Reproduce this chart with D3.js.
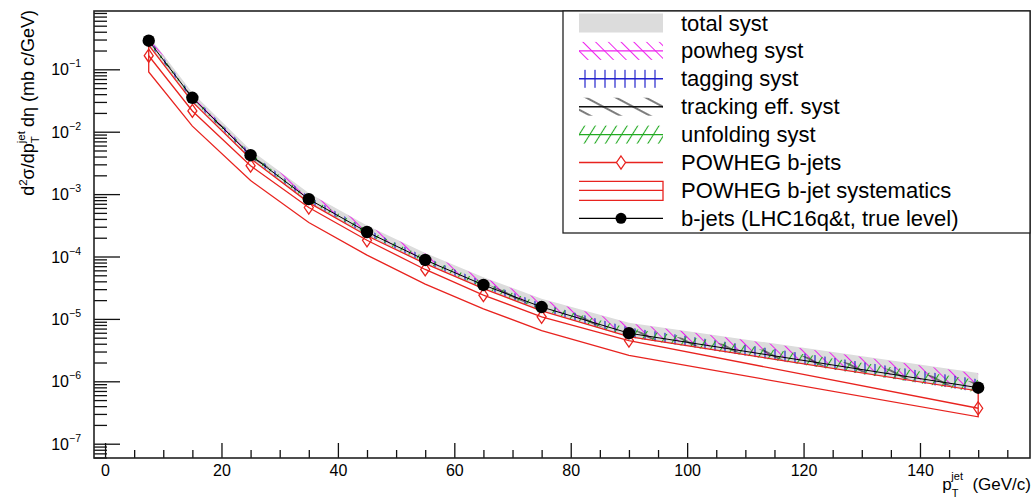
<!DOCTYPE html>
<html>
<head>
<meta charset="utf-8">
<script src="https://cdn.jsdelivr.net/npm/d3@7"></script>
<style>
  body { margin: 0; background: #fff; }
  svg { display: block; font-family: "Liberation Sans", Arial, Helvetica, sans-serif; }
</style>
</head>
<body>
<div id="chart"></div>
<script>
/* Chart constants */
const WIDTH = 1034;
const HEIGHT = 502;
const FRAME = {left: 94, right: 1030, top: 11, bottom: 458};

// jet pT bin centres (GeV/c)
const ptCenters = [7.5, 15, 25, 35, 45, 55, 65, 75, 90, 150];

// measured b-jet spectrum (LHC16q&t, true level)
const bjets = [0.287, 0.035, 4.2e-3, 8.3e-4, 2.47e-4, 8.8e-5, 3.5e-5, 1.55e-5, 5.9e-6, 7.9e-7];

// systematic bands around the measurement (low / high edge)
const totalLow  = [0.25, 0.0305, 3.65e-3, 7.2e-4, 2.15e-4, 7.6e-5, 3.05e-5, 1.35e-5, 5.1e-6, 6.9e-7];
const totalHigh = [0.345, 0.042, 5.1e-3, 1.04e-3, 3.15e-4, 1.14e-4, 4.65e-5, 2.1e-5, 8.7e-6, 1.36e-6];
const powhegSystLow  = [0.28, 0.034, 4.1e-3, 8.1e-4, 2.4e-4, 8.6e-5, 3.4e-5, 1.5e-5, 5.7e-6, 7.6e-7];
const powhegSystHigh = [0.335, 0.041, 5.0e-3, 1.02e-3, 3.1e-4, 1.12e-4, 4.55e-5, 2.05e-5, 8.5e-6, 1.32e-6];
const taggingLow  = [0.26, 0.0315, 3.8e-3, 7.5e-4, 2.22e-4, 7.9e-5, 3.12e-5, 1.38e-5, 5.1e-6, 6.7e-7];
const taggingHigh = [0.315, 0.0385, 4.65e-3, 9.2e-4, 2.75e-4, 9.9e-5, 3.95e-5, 1.77e-5, 7.3e-6, 1.08e-6];
const trackingLow  = [0.27, 0.033, 3.95e-3, 7.8e-4, 2.32e-4, 8.25e-5, 3.28e-5, 1.45e-5, 5.4e-6, 7.2e-7];
const trackingHigh = [0.305, 0.037, 4.45e-3, 8.8e-4, 2.64e-4, 9.45e-5, 3.78e-5, 1.68e-5, 6.7e-6, 9.6e-7];
const unfoldingLow  = [0.265, 0.0325, 3.9e-3, 7.6e-4, 2.25e-4, 8.0e-5, 3.15e-5, 1.39e-5, 5.1e-6, 6.6e-7];
const unfoldingHigh = [0.305, 0.0375, 4.5e-3, 9.0e-4, 2.7e-4, 9.7e-5, 3.9e-5, 1.74e-5, 7.1e-6, 1.05e-6];

// POWHEG b-jet prediction and its systematic envelope
const powheg     = [0.165, 0.0215, 2.85e-3, 6.1e-4, 1.82e-4, 6.2e-5, 2.4e-5, 1.08e-5, 4.5e-6, 3.7e-7];
const powhegLow  = [0.0905, 0.0123, 1.65e-3, 3.5e-4, 1.05e-4, 3.6e-5, 1.45e-5, 6.5e-6, 2.6e-6, 2.7e-7];
const powhegHigh = [0.245, 0.030, 3.7e-3, 7.3e-4, 2.15e-4, 7.7e-5, 3.05e-5, 1.35e-5, 5.2e-6, 7.0e-7];

// axis ticks
const xMajorTicks = [0, 20, 40, 60, 80, 100, 120, 140];
const yDecades = [-7, -6, -5, -4, -3, -2, -1];

const legendLabels = ["total syst", "powheg syst", "tagging syst", "tracking eff. syst",
                      "unfolding syst", "POWHEG b-jets", "POWHEG b-jet systematics",
                      "b-jets (LHC16q&t, true level)"];

const RED = "#e8231f";

window.onload = () => {
    buildChart();
}

function buildChart() {
    const svg = d3.select("#chart").append("svg").attr("width", WIDTH).attr("height", HEIGHT);

    const x = d3.scaleLinear().domain([-1.9, 158.9]).range([FRAME.left, FRAME.right]);
    const y = d3.scaleLog().domain([5.9e-8, 0.86]).range([FRAME.bottom, FRAME.top]);

    //hatch patterns: horizontal line rotated
    const defs = svg.append("defs");
    function hatch(id, color, spacing, angle, width) {
        const p = defs.append("pattern").attr("id", id)
            .attr("patternUnits", "userSpaceOnUse")
            .attr("width", 10).attr("height", spacing)
            .attr("patternTransform", "rotate(" + angle + ")");
        p.append("line").attr("x1", 0).attr("x2", 10)
            .attr("y1", spacing / 2).attr("y2", spacing / 2)
            .attr("stroke", color).attr("stroke-width", width);
    }
    hatch("h-powheg", "#ee22ee", 9, 45, 1);
    hatch("h-tagging", "#2222cc", 10, 90, 1.2);
    hatch("h-tracking", "#111", 14, 28, 1.1);
    hatch("h-unfolding", "#22aa22", 9, -58, 1.1);

    defs.append("clipPath").attr("id", "frameclip").append("rect")
        .attr("x", FRAME.left).attr("y", FRAME.top)
        .attr("width", FRAME.right - FRAME.left).attr("height", FRAME.bottom - FRAME.top);

    const plot = svg.append("g").attr("clip-path", "url(#frameclip)");

    const rows = ptCenters.map((pt, i) => ({pt: pt, i: i}));
    function band(lo, hi) {
        return d3.area().x((d) => x(d.pt)).y0((d) => y(lo[d.i])).y1((d) => y(hi[d.i]))(rows);
    }

    plot.append("path").attr("d", band(totalLow, totalHigh)).attr("fill", "#dcdcdc");
    plot.append("path").attr("d", band(powhegSystLow, powhegSystHigh)).attr("fill", "url(#h-powheg)");
    plot.append("path").attr("d", band(taggingLow, taggingHigh)).attr("fill", "url(#h-tagging)");
    plot.append("path").attr("d", band(trackingLow, trackingHigh)).attr("fill", "url(#h-tracking)");
    plot.append("path").attr("d", band(unfoldingLow, unfoldingHigh)).attr("fill", "url(#h-unfolding)");

    //POWHEG envelope, hollow
    plot.append("path").attr("d", band(powhegLow, powhegHigh))
        .attr("fill", "none").attr("stroke", RED).attr("stroke-width", 1.3);

    const line = (vals) => d3.line().x((d) => x(d.pt)).y((d) => y(vals[d.i]))(rows);

    plot.append("path").attr("d", line(powheg)).attr("fill", "none")
        .attr("stroke", RED).attr("stroke-width", 1.3);
    plot.append("path").attr("d", line(bjets)).attr("fill", "none")
        .attr("stroke", "#000").attr("stroke-width", 1);

    const diamond = (cx, cy) => "M" + cx + "," + (cy - 6.5) + "L" + (cx + 4.5) + "," + cy +
        "L" + cx + "," + (cy + 6.5) + "L" + (cx - 4.5) + "," + cy + "Z";

    plot.selectAll("path.pw").data(rows).enter().append("path").attr("class", "pw")
        .attr("d", (d) => diamond(x(d.pt), y(powheg[d.i])))
        .attr("fill", "none").attr("stroke", RED).attr("stroke-width", 1.3);

    plot.selectAll("circle.bj").data(rows).enter().append("circle").attr("class", "bj")
        .attr("cx", (d) => x(d.pt)).attr("cy", (d) => y(bjets[d.i]))
        .attr("r", 6.2).attr("fill", "#000");

    // axes
    const yMinor = [];
    for (let k = -8; k <= -1; k++) {
        for (let m = 2; m <= 9; m++) {
            const v = m * Math.pow(10, k);
            if (v >= 5.9e-8 && v <= 0.86) yMinor.push(v);
        }
    }
    const yMajor = yDecades.map((k) => Math.pow(10, k));

    svg.append("g").attr("transform", "translate(" + FRAME.left + ",0)")
        .call(d3.axisLeft(y).tickValues(yMinor).tickSize(-13).tickFormat(""))
        .call((g) => g.select(".domain").remove());
    svg.append("g").attr("transform", "translate(" + FRAME.left + ",0)")
        .call(d3.axisLeft(y).tickValues(yMajor).tickSize(-26).tickFormat(""))
        .call((g) => g.select(".domain").remove());

    const xMinor = d3.range(0, 159, 5).filter((v) => v % 20 !== 0);
    svg.append("g").attr("transform", "translate(0," + FRAME.bottom + ")")
        .call(d3.axisBottom(x).tickValues(xMinor).tickSize(-8).tickFormat(""))
        .call((g) => g.select(".domain").remove());
    svg.append("g").attr("transform", "translate(0," + FRAME.bottom + ")")
        .call(d3.axisBottom(x).tickValues(xMajorTicks).tickSize(-15).tickPadding(7))
        .call((g) => g.select(".domain").remove())
        .call((g) => g.selectAll("text").attr("font-size", 16).attr("fill", "#000")
            .attr("font-family", "'Liberation Sans', Arial, sans-serif"));

    svg.selectAll(".tick line").attr("stroke", "#111").attr("stroke-width", 1.3);

    // y tick labels 10^k
    yDecades.forEach((k) => {
        const t = svg.append("text").attr("x", 81).attr("y", y(Math.pow(10, k)) + 6)
            .attr("text-anchor", "end").attr("font-size", 16);
        t.append("tspan").text("10");
        t.append("tspan").attr("font-size", 10.5).attr("dy", -8).text("\u2212" + (-k));
    });

    // frame
    svg.append("rect").attr("x", FRAME.left).attr("y", FRAME.top)
        .attr("width", FRAME.right - FRAME.left).attr("height", FRAME.bottom - FRAME.top)
        .attr("fill", "none").attr("stroke", "#222").attr("stroke-width", 1.6);

    // axis titles
    const xt = svg.append("text").attr("x", 1031).attr("y", 490)
        .attr("text-anchor", "end").attr("font-size", 17);
    xt.append("tspan").text("p");
    xt.append("tspan").attr("font-size", 11).attr("dy", 7).text("T");
    xt.append("tspan").attr("font-size", 11).attr("dx", -7).attr("dy", -17).text("jet");
    xt.append("tspan").attr("dy", 10).text("  (GeV/c)").attr("xml:space", "preserve");

    const yt = svg.append("text").attr("transform", "translate(34,10) rotate(-90)")
        .attr("text-anchor", "end").attr("font-size", 18);
    yt.append("tspan").text("d");
    yt.append("tspan").attr("font-size", 11.5).attr("dy", -7).text("2");
    yt.append("tspan").attr("dy", 7).text("\u03c3/dp");
    yt.append("tspan").attr("font-size", 11.5).attr("dy", 5).text("T");
    yt.append("tspan").attr("font-size", 11.5).attr("dx", -7).attr("dy", -14).text("jet");
    yt.append("tspan").attr("dy", 9).attr("dx", 4).text("d\u03b7 (mb c/GeV)");

    // legend
    const leg = svg.append("g");
    leg.append("rect").attr("x", 563).attr("y", 11).attr("width", 467).attr("height", 222)
        .attr("fill", "#fff").attr("stroke", "#222").attr("stroke-width", 1.3);

    const sx0 = 579, sx1 = 663, sxm = 621;
    const fills = [null, "url(#h-powheg)", "url(#h-tagging)", "url(#h-tracking)", "url(#h-unfolding)"];
    const lineColors = [null, "#ee22ee", "#2222cc", "#111", "#22aa22"];

    legendLabels.forEach((label, i) => {
        const cy = 23 + 27.9 * i;
        if (i === 0) {
            leg.append("rect").attr("x", sx0).attr("y", cy - 9.5).attr("width", sx1 - sx0)
                .attr("height", 19).attr("fill", "#dcdcdc");
        } else if (i <= 4) {
            leg.append("rect").attr("x", sx0).attr("y", cy - 9).attr("width", sx1 - sx0)
                .attr("height", 18).attr("fill", fills[i]);
            leg.append("line").attr("x1", sx0).attr("x2", sx1).attr("y1", cy).attr("y2", cy)
                .attr("stroke", lineColors[i]).attr("stroke-width", 1.4);
        } else if (i === 5) {
            leg.append("line").attr("x1", sx0).attr("x2", sx1).attr("y1", cy).attr("y2", cy)
                .attr("stroke", RED).attr("stroke-width", 1.3);
            leg.append("path").attr("d", diamond(sxm, cy)).attr("fill", "#fff")
                .attr("stroke", RED).attr("stroke-width", 1.3);
        } else if (i === 6) {
            leg.append("path")
                .attr("d", "M" + sx0 + "," + (cy - 9) + "H" + sx1 + "V" + (cy + 10) + "H" + sx0 +
                    "M" + sx0 + "," + cy + "H" + sx1)
                .attr("fill", "none").attr("stroke", RED).attr("stroke-width", 1.3);
        } else {
            leg.append("line").attr("x1", sx0).attr("x2", sx1).attr("y1", cy).attr("y2", cy)
                .attr("stroke", "#000").attr("stroke-width", 1.2);
            leg.append("circle").attr("cx", sxm).attr("cy", cy).attr("r", 5.5).attr("fill", "#000");
        }
        leg.append("text").attr("x", 681).attr("y", cy + 7.5).attr("font-size", 22).text(label);
    });
}
</script>
</body>
</html>
